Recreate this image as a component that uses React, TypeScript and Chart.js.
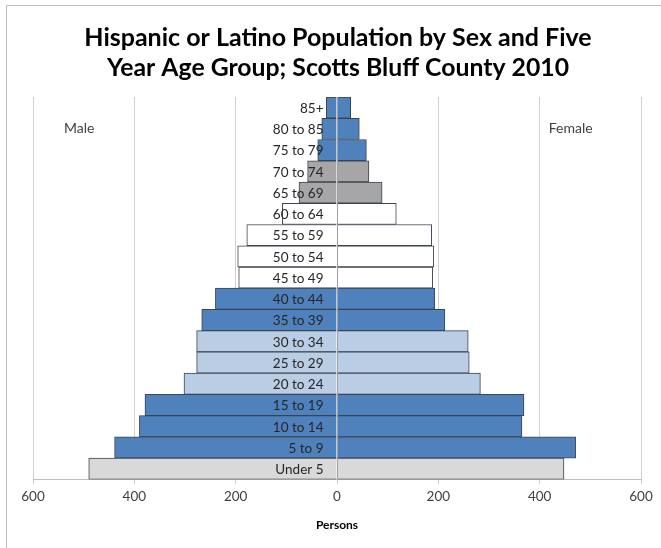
import { useEffect, useRef } from "react";
import { Chart, registerables } from "chart.js";

Chart.register(...registerables);

// Age bands, top of the pyramid first
const ageGroups = [
  "85+", "80 to 85", "75 to 79", "70 to 74", "65 to 69", "60 to 64",
  "55 to 59", "50 to 54", "45 to 49", "40 to 44", "35 to 39", "30 to 34",
  "25 to 29", "20 to 24", "15 to 19", "10 to 14", "5 to 9", "Under 5",
];

// Persons per band
const maleCounts = [21, 30, 38, 58, 75, 108, 178, 196, 194, 240, 267, 277, 277, 302, 379, 390, 439, 490];
const femaleCounts = [27, 44, 58, 63, 89, 117, 187, 191, 189, 193, 213, 259, 261, 283, 369, 365, 471, 448];

const BLUE = "#4F81BD";
const GREY = "#A6A6A6";
const WHITE = "#FFFFFF";
const PALE_BLUE = "#B9CDE5";
const PALE_GREY = "#D9D9D9";

// Fill colour for each band (same on both sides)
const bandColors = [
  BLUE, BLUE, BLUE, GREY, GREY, WHITE, WHITE, WHITE, WHITE,
  BLUE, BLUE, PALE_BLUE, PALE_BLUE, PALE_BLUE, BLUE, BLUE, BLUE, PALE_GREY,
];

const xTickValues = [-600, -400, -200, 0, 200, 400, 600];

const titleLines = [
  "Hispanic or Latino Population by Sex and Five",
  "Year Age Group; Scotts Bluff County 2010",
];
const sideLabels = ["Male", "Female"];
const axisTitle = "Persons";

const FONT = "Lato, 'Open Sans', sans-serif";

const decorations = {
  id: "pyramidDecorations",
  beforeDraw(chart: any) {
    const { ctx, width, height } = chart;
    ctx.save();
    ctx.fillStyle = "#FFFFFF";
    ctx.fillRect(0, 0, width, height);
    // outer frame
    ctx.strokeStyle = "#BDBDBD";
    ctx.lineWidth = 1;
    ctx.beginPath();
    ctx.moveTo(6.5, height);
    ctx.lineTo(6.5, 5.5);
    ctx.lineTo(width, 5.5);
    ctx.stroke();
    // title
    ctx.fillStyle = "#000000";
    ctx.font = `bold 25px ${FONT}`;
    ctx.textAlign = "center";
    ctx.textBaseline = "middle";
    const cx = 338;
    ctx.fillText(titleLines[0], cx, 38, 508);
    ctx.fillText(titleLines[1], cx, 68, 462);
    ctx.restore();
  },
  afterDatasetsDraw(chart: any) {
    const { ctx, chartArea } = chart;
    const xs = chart.scales.x;
    const ys = chart.scales.y;
    const x0 = Math.round(xs.getPixelForValue(0)) + 0.5;
    ctx.save();
    // centre axis line over the bars
    ctx.strokeStyle = "#A0A0A0";
    ctx.lineWidth = 1;
    ctx.beginPath();
    ctx.moveTo(x0, chartArea.top);
    ctx.lineTo(x0, chartArea.bottom);
    ctx.stroke();
    // band labels
    ctx.fillStyle = "#262626";
    ctx.font = `13.5px ${FONT}`;
    ctx.textAlign = "right";
    ctx.textBaseline = "middle";
    ageGroups.forEach((label, i) => {
      ctx.fillText(label, x0 - 14, ys.getPixelForValue(i) + 1);
    });
    // side labels
    ctx.fillStyle = "#404040";
    ctx.font = `14px ${FONT}`;
    ctx.textAlign = "left";
    ctx.fillText(sideLabels[0], chartArea.left + 31, chartArea.top + 31);
    ctx.fillText(sideLabels[1], xs.getPixelForValue(418), chartArea.top + 31);
    ctx.restore();
  },
};

export default function App() {
  const canvasRef = useRef<HTMLCanvasElement | null>(null);

  useEffect(() => {
    const canvas = canvasRef.current;
    if (!canvas) return;
    const chart = new Chart(canvas, {
      type: "bar",
      data: {
        labels: ageGroups,
        datasets: [
          {
            label: sideLabels[0],
            data: maleCounts.map((v) => -v),
            backgroundColor: bandColors,
            borderColor: "#3B4450",
            borderWidth: 1,
            barPercentage: 1,
            categoryPercentage: 1,
          },
          {
            label: sideLabels[1],
            data: femaleCounts,
            backgroundColor: bandColors,
            borderColor: "#3B4450",
            borderWidth: 1,
            barPercentage: 1,
            categoryPercentage: 1,
          },
        ],
      },
      options: {
        indexAxis: "y",
        responsive: false,
        animation: false,
        devicePixelRatio: 1,
        layout: { padding: { top: 97, left: 33, right: 20, bottom: 12 } },
        plugins: {
          legend: { display: false },
          title: { display: false },
          tooltip: { enabled: false },
        },
        scales: {
          x: {
            type: "linear",
            min: -600,
            max: 600,
            stacked: true,
            afterBuildTicks: (scale: any) => {
              scale.ticks = xTickValues.map((value) => ({ value }));
            },
            grid: {
              color: "#D0D0D0",
              lineWidth: 1,
              drawTicks: true,
              tickLength: 5,
            },
            border: { color: "#BFBFBF" },
            ticks: {
              color: "#404040",
              font: { family: FONT, size: 13.5 },
              padding: 4,
              callback: (value: any) => String(Math.abs(Number(value))),
            },
            title: {
              display: true,
              text: axisTitle,
              color: "#000000",
              font: { family: FONT, size: 12, weight: "bold" },
              padding: { top: 9, bottom: 4 },
            },
          },
          y: {
            type: "category",
            stacked: true,
            display: false,
          },
        },
      },
      plugins: [decorations],
    });
    return () => chart.destroy();
  }, []);

  return (
    <div style={{ position: "absolute", left: 0, top: 0, width: 661, height: 548 }}>
      <canvas ref={canvasRef} width={661} height={548} />
    </div>
  );
}
